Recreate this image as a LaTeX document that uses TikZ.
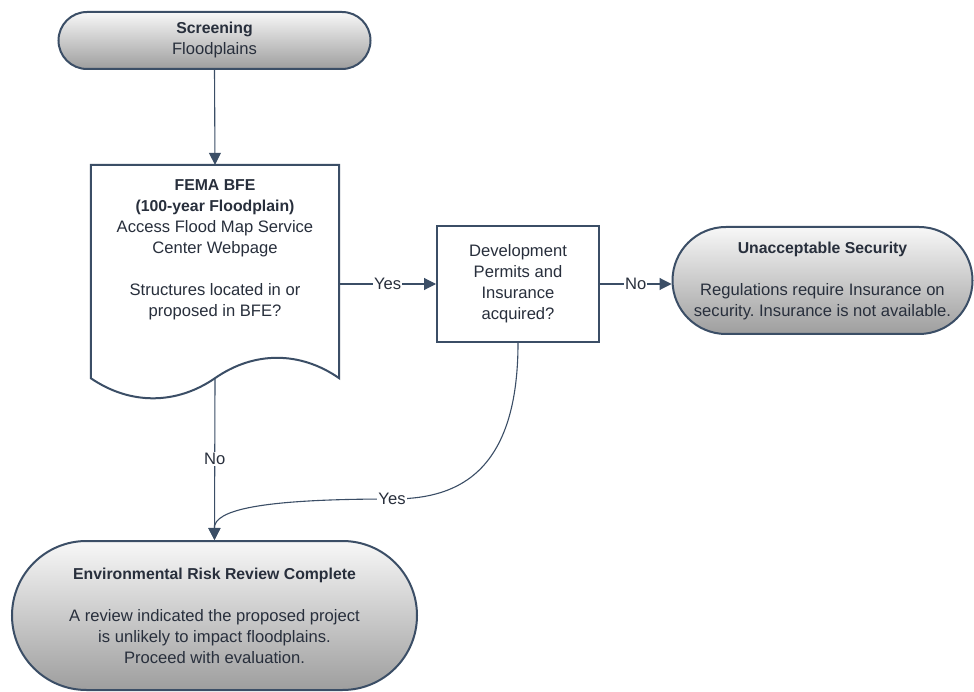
\documentclass[tikz,border=0pt]{standalone}
\usepackage{fontspec}
\setmainfont{Liberation Sans}
\usetikzlibrary{arrows.meta}
\frenchspacing

\definecolor{edgec}{RGB}{59,78,102}
\definecolor{inkc}{RGB}{40,47,60}

\newcommand{\hd}[1]{{\fontsize{15.8}{21}\selectfont\bfseries #1}}

\tikzset{
  basefont/.style={font=\fontsize{16.6}{21}\selectfont, text=inkc, align=center},
  term/.style={basefont, draw=edgec, line width=2pt, rounded corners=#1,
    top color=black!3, bottom color=black!38, inner sep=0pt},
  proc/.style={basefont, draw=edgec, line width=2pt, fill=white, inner sep=0pt},
  docline/.style={draw=edgec, line width=2pt, fill=white, line join=miter},
  txt/.style={basefont, inner sep=0pt},
  conn/.style={draw=edgec, line width=1.1pt, -{Triangle[length=12pt,width=12pt]}},
  lab/.style={basefont, fill=white, inner sep=1pt}
}

\begin{document}
\begin{tikzpicture}[x=1pt,y=-1pt]
  \fill[white] (0,0) rectangle (974,692);
  \useasboundingbox (0,0) rectangle (974,692);

  % start terminator
  \node[term=28.5pt, minimum width=312pt, minimum height=57pt] (screen) at (214.5,40.5)
    {\hd{Screening}\\Floodplains};

  % document shape with wavy bottom
  \node[minimum width=248pt, minimum height=213pt, inner sep=0pt] (doc) at (215,271.5) {};
  \path[docline] (doc.south west) -- (doc.north west) -- (doc.north east) -- (doc.south east)
    .. controls (300,351) and (254,351) .. (doc.south)
    .. controls (176,405) and (130,405) .. (doc.south west) -- cycle;
  \node[txt] (doctxt) at (215,250)
    {\hd{FEMA BFE}\\\hd{(100-year Floodplain)}\\Access Flood Map Service\\Center Webpage\\[21pt]Structures located in or\\proposed in BFE?};

  % decision box
  \node[proc, minimum width=162pt, minimum height=116pt] (dec) at (518,284)
    {Development\\Permits and\\Insurance\\acquired?};

  % end terminators
  \node[term=53.5pt, minimum width=300pt, minimum height=107pt] (unacc) at (822.5,280.5)
    {\hd{Unacceptable Security}\\[21pt]Regulations require Insurance on\\security. Insurance is not available.};

  \node[term=74.5pt, minimum width=405pt, minimum height=149pt] (env) at (214.5,615.5)
    {\hd{Environmental Risk Review Complete}\\[21pt]A review indicated the proposed project\\is unlikely to impact floodplains.\\Proceed with evaluation.};

  % connectors
  \draw[conn] (screen.south) -- (doc.north);
  \draw[conn] (doc.east |- dec.west) -- node[lab] {Yes} (dec.west);
  \draw[conn] (dec.east) -- node[lab] {No} (dec.east -| unacc.west);
  \draw[conn] (doc.south) -- node[lab] {No} (env.north);

  \coordinate (yesmid) at (392,499);
  \draw[conn] (dec.south) .. controls (518,480) and (450,499) .. (yesmid)
    .. controls (260,499) and (214,510) .. (env.north);
  \node[lab] (yeslab) at (yesmid) {Yes};
\end{tikzpicture}
\end{document}
